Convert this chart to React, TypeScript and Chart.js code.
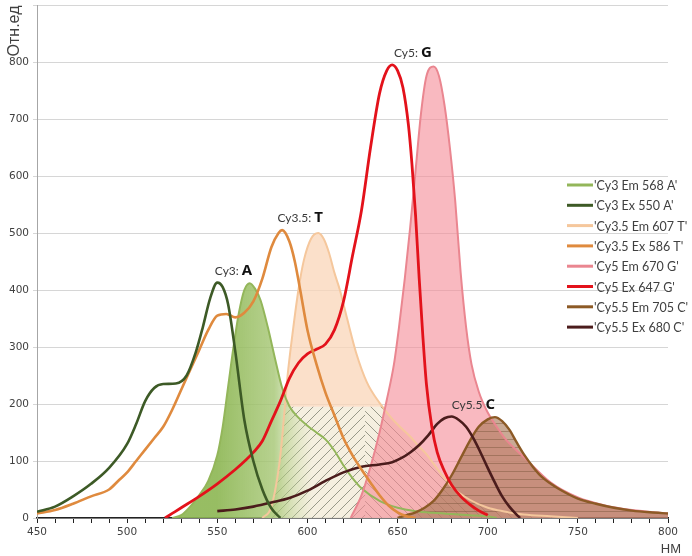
import React, { useEffect, useRef } from 'react';
import Chart from 'chart.js/auto';

type Pt = [number, number];

// spectra: [nm, relative units]
const cy3Em568: Pt[] = [
  [525, 0], [530, 5], [535, 20], [540, 40], [545, 65], [550, 110], [553, 160], [556, 230],
  [559, 300], [562, 360], [565, 400], [568, 412], [571, 402], [574, 382], [578, 335],
  [582, 280], [586, 228], [590, 196], [595, 176], [600, 162], [605, 150], [610, 138],
  [615, 118], [620, 92], [625, 70], [630, 52], [640, 30], [650, 18], [660, 12], [670, 9],
  [680, 7], [690, 5], [700, 3], [705, 0],
];
const cy3Ex550: Pt[] = [
  [450, 11], [460, 20], [470, 38], [480, 60], [490, 88], [500, 130], [505, 165], [510, 205],
  [515, 228], [520, 235], [527, 236], [533, 250], [538, 290], [542, 335], [546, 385],
  [550, 413], [553, 405], [556, 375], [560, 292], [565, 172], [570, 100], [575, 50],
  [580, 17], [585, 0],
];
const cy35Em607: Pt[] = [
  [575, 0], [580, 20], [585, 110], [589, 250], [592, 330], [595, 400], [598, 452], [602, 490],
  [606, 500], [609, 490], [612, 465], [615, 430], [618, 400], [622, 350], [627, 290],
  [633, 238], [640, 202], [647, 174], [652, 158], [657, 143], [662, 125], [666, 112],
  [670, 95], [674, 78], [680, 55], [690, 32], [700, 18], [710, 11], [720, 6],
  [735, 3], [750, 0],
];
const cy35Ex586: Pt[] = [
  [450, 8], [460, 14], [470, 25], [480, 38], [490, 50], [495, 65], [500, 80], [505, 100],
  [510, 120], [515, 140], [520, 160], [525, 190], [530, 225], [535, 260], [540, 295],
  [545, 330], [550, 355], [555, 358], [560, 352], [565, 360], [570, 380], [575, 420],
  [580, 475], [584, 500], [586, 505], [590, 485], [593, 450], [596, 400], [600, 330],
  [605, 270], [610, 220], [615, 180], [620, 140], [625, 110], [630, 85], [635, 62],
  [640, 40], [645, 22], [650, 10], [655, 3], [660, 0],
];
const cy5Em670: Pt[] = [
  [624, 0], [630, 40], [635, 90], [640, 150], [644, 207], [648, 270], [651, 340], [654, 420],
  [657, 510], [660, 610], [663, 710], [666, 775], [670, 792], [673, 775], [676, 725],
  [679, 650], [682, 555], [685, 430], [688, 335], [691, 270], [695, 222], [700, 185],
  [705, 160], [710, 138], [720, 107], [735, 62], [750, 36], [765, 22], [780, 14], [800, 8],
];
const cy5Ex647: Pt[] = [
  [521, 0], [525, 8], [530, 18], [540, 38], [550, 60], [560, 85], [566, 102], [570, 115],
  [575, 135], [580, 170], [585, 205], [590, 245], [595, 272], [600, 288], [605, 296],
  [610, 305], [615, 330], [620, 380], [625, 460], [630, 540], [635, 650], [640, 745],
  [644, 785], [647, 795], [650, 785], [653, 755], [656, 690], [658, 620], [660, 530],
  [662, 420], [664, 320], [666, 235], [669, 160], [672, 115], [676, 82], [680, 58],
  [685, 38], [690, 24], [695, 13], [700, 5],
];
const cy55Em705: Pt[] = [
  [650, 0], [655, 5], [660, 10], [665, 18], [670, 30], [675, 50], [680, 75], [685, 105],
  [690, 135], [695, 160], [700, 173], [704, 177], [708, 170], [712, 155], [716, 133],
  [720, 112], [725, 90], [730, 72], [735, 60], [740, 50], [750, 34], [760, 25], [770, 18],
  [780, 13], [790, 10], [800, 8],
];
const cy55Ex680: Pt[] = [
  [550, 12], [560, 15], [570, 20], [580, 27], [590, 35], [600, 48], [610, 65], [620, 80],
  [630, 90], [640, 94], [647, 98], [652, 105], [657, 115], [662, 128], [667, 145],
  [672, 165], [676, 175], [680, 178], [684, 172], [688, 160], [692, 140], [696, 115],
  [700, 88], [704, 62], [708, 38], [712, 20], [716, 6], [718, 0],
];

const seriesLabels = [
  "'Cy3 Em 568 A'", "'Cy3 Ex 550 A'", "'Cy3.5 Em 607 T'", "'Cy3.5 Ex 586 T'",
  "'Cy5 Em 670 G'", "'Cy5 Ex 647 G'", "'Cy5.5 Em 705 C'", "'Cy5.5 Ex 680 C'",
];
const series = [cy3Em568, cy3Ex550, cy35Em607, cy35Ex586, cy5Em670, cy5Ex647, cy55Em705, cy55Ex680];

// dye captions: [emission index, excitation index]
const dyeNames = ['Cy3:', 'Cy3.5:', 'Cy5:', 'Cy5.5'];
const dyeBases = ['A', 'T', 'G', 'C'];
const dyePairs = [[0, 1], [2, 3], [4, 5], [6, 7]];

const nmMin = 450;
const nmMax = 800;
const yMax = 900;
const yTitle = 'Отн.ед';
const xTitle = 'НМ';

const lineColors = ['#93b65a', '#3d5a26', '#f5c79c', '#df8a3e', '#ea8690', '#e3121b', '#8c5a26', '#4b1c1c'];
const lineWidths = [2, 2.6, 2, 2.6, 2, 2.8, 2.4, 2.6];

const FONT = 'Lato, "DejaVu Sans", sans-serif';

function hatch(bg: string, stroke: string, s: number) {
  const c = document.createElement('canvas');
  c.width = s;
  c.height = s;
  const g = c.getContext('2d')!;
  g.fillStyle = bg;
  g.fillRect(0, 0, s, s);
  g.strokeStyle = stroke;
  g.lineWidth = 1;
  g.beginPath();
  g.moveTo(0, s - 0.5);
  g.lineTo(s, s - 0.5);
  g.stroke();
  return g.createPattern(c, 'repeat')!;
}

// peach emission fill: plain peach, the lower band hatched on cream
function peachFill(c: any) {
  const chart = c.chart;
  if (!chart.chartArea) return 'rgba(249,214,182,0.6)';
  const { width, height } = chart;
  const sx = chart.scales.x;
  const sy = chart.scales.y;
  const cv = document.createElement('canvas');
  cv.width = width;
  cv.height = height;
  const g = cv.getContext('2d')!;
  const band = sy.getPixelForValue(195);
  const split = sx.getPixelForValue(632);
  g.fillStyle = 'rgba(249,214,184,0.75)';
  g.fillRect(0, 0, width, band);
  g.fillStyle = 'rgba(244,238,222,0.95)';
  g.fillRect(0, band, width, height - band);
  g.strokeStyle = 'rgba(90,95,80,0.6)';
  g.lineWidth = 1;
  const step = 10;
  g.save();
  g.beginPath();
  g.rect(0, band, split, height - band);
  g.clip();
  g.beginPath();
  for (let x0 = -height; x0 < width + height; x0 += step) {
    g.moveTo(x0, height);
    g.lineTo(x0 + height, 0);
  }
  g.stroke();
  g.restore();
  g.save();
  g.beginPath();
  g.rect(split, band, width - split, height - band);
  g.clip();
  g.beginPath();
  for (let x0 = -height; x0 < width + height; x0 += step) {
    g.moveTo(x0, 0);
    g.lineTo(x0 + height, height);
  }
  g.stroke();
  g.restore();
  return chart.ctx.createPattern(cv, 'no-repeat');
}

// green emission fill: saturated on the left, fading out to the right
function greenFill(c: any) {
  const chart = c.chart;
  if (!chart.chartArea) return 'rgba(150,190,90,0.6)';
  const sx = chart.scales.x;
  const g = chart.ctx.createLinearGradient(sx.getPixelForValue(550), 0, sx.getPixelForValue(603), 0);
  g.addColorStop(0, 'rgba(140,182,82,0.9)');
  g.addColorStop(0.6, 'rgba(165,198,115,0.8)');
  g.addColorStop(1, 'rgba(200,220,160,0)');
  return g;
}

const captions = {
  id: 'captions',
  afterDraw(chart: any) {
    const { ctx, chartArea, scales } = chart;
    const x = scales.x;
    const y = scales.y;
    ctx.save();

    // dye captions above each pair of peaks
    dyePairs.forEach(([em, ex], i) => {
      const peakOf = (pts: Pt[]) => pts.reduce((a, b) => (b[1] > a[1] ? b : a));
      const p1 = peakOf(series[em]);
      const p2 = peakOf(series[ex]);
      const cx = x.getPixelForValue((p1[0] + p2[0]) / 2);
      const base = y.getPixelForValue(Math.max(p1[1], p2[1])) - 8;
      ctx.font = '12px ' + FONT;
      const w1 = ctx.measureText(dyeNames[i]).width;
      ctx.font = 'bold 15px "Open Sans", sans-serif';
      const w2 = ctx.measureText(dyeBases[i]).width;
      const left = cx - (w1 + 3 + w2) / 2;
      ctx.textAlign = 'left';
      ctx.textBaseline = 'alphabetic';
      ctx.fillStyle = '#3a3a3a';
      ctx.font = '12px ' + FONT;
      ctx.fillText(dyeNames[i], left, base);
      ctx.fillStyle = '#111';
      ctx.font = 'bold 15px "Open Sans", sans-serif';
      ctx.fillText(dyeBases[i], left + w1 + 3, base);
    });

    // legend inside the plot
    const lx = chartArea.left + 530;
    const ly = chartArea.top + 180;
    seriesLabels.forEach((lab, i) => {
      const yy = ly + i * 20.3;
      ctx.strokeStyle = lineColors[i];
      ctx.lineWidth = 3;
      ctx.beginPath();
      ctx.moveTo(lx, yy);
      ctx.lineTo(lx + 26, yy);
      ctx.stroke();
      ctx.fillStyle = '#404040';
      ctx.font = '12.5px ' + FONT;
      ctx.textAlign = 'left';
      ctx.textBaseline = 'middle';
      ctx.fillText(lab, lx + 27, yy + 1);
    });

    // axis titles
    ctx.fillStyle = '#404040';
    ctx.font = '16px "Liberation Sans", sans-serif';
    ctx.translate(15, chartArea.top + 26);
    ctx.rotate(-Math.PI / 2);
    ctx.textAlign = 'center';
    ctx.textBaseline = 'middle';
    ctx.fillText(yTitle, 0, 0);
    ctx.setTransform(chart.currentDevicePixelRatio, 0, 0, chart.currentDevicePixelRatio, 0, 0);
    ctx.font = '13px "Liberation Sans", sans-serif';
    ctx.textAlign = 'right';
    ctx.textBaseline = 'alphabetic';
    ctx.fillText(xTitle, chartArea.right + 13, chartArea.bottom + 35);
    ctx.restore();
  },
};

const App: React.FC = () => {
  const canvasRef = useRef<HTMLCanvasElement>(null);

  useEffect(() => {
    if (!canvasRef.current) return;
    const ctx = canvasRef.current.getContext('2d');
    if (!ctx) return;

    const fills: any[] = [
      greenFill,
      null,
      peachFill,
      null,
      'rgba(245,138,150,0.6)',
      null,
      hatch('rgba(168,118,84,0.62)', 'rgba(120,85,60,0.45)', 8),
      null,
    ];
    const orders = [4, 0, 5, 0, 2, 0, 1, 0];

    const datasets: any[] = series.map((pts, i) => ({
      label: seriesLabels[i],
      data: pts.map(([x, y]) => ({ x, y })),
      borderColor: lineColors[i],
      borderWidth: lineWidths[i],
      backgroundColor: fills[i] ?? 'transparent',
      fill: fills[i] ? 'origin' : false,
      pointRadius: 0,
      cubicInterpolationMode: 'monotone',
      order: orders[i],
    }));

    const chart = new Chart(ctx, {
      type: 'line',
      data: { datasets },
      options: {
        animation: false,
        responsive: false,
        layout: { padding: { top: 5, right: 24, left: 0, bottom: 0 } },
        plugins: {
          legend: { display: false },
          tooltip: { enabled: false },
          filler: { drawTime: 'beforeDatasetsDraw' },
        },
        scales: {
          x: {
            type: 'linear',
            min: nmMin,
            max: nmMax,
            afterFit: (s: any) => { s.height = 38; },
            ticks: {
              stepSize: 10,
              autoSkip: false,
              maxRotation: 0,
              padding: 3,
              color: '#404040',
              font: { family: '"DejaVu Sans", sans-serif', size: 10.5 },
              callback: (v: any) => (Number(v) % 50 === 0 ? String(v) : ''),
            },
            grid: { drawOnChartArea: false, tickLength: 5, color: '#222' },
            border: { color: '#222', width: 1.5 },
          },
          y: {
            min: 0,
            max: yMax,
            afterFit: (s: any) => { s.width = 37; s.paddingTop = 0; s.paddingBottom = 0; },
            ticks: {
              stepSize: 100,
              padding: 4,
              color: '#404040',
              font: { family: '"DejaVu Sans", sans-serif', size: 10.5 },
              callback: (v: any) => (Number(v) === yMax ? '' : String(v)),
            },
            grid: { color: '#d6d6d6', tickLength: 4 },
            border: { color: '#a6a6a6' },
          },
        },
      },
      plugins: [captions],
    });

    return () => {
      chart.destroy();
    };
  }, []);

  return (
    <div style={{ position: 'absolute', left: 0, top: 0, width: 692, height: 556, background: '#fff' }}>
      <canvas ref={canvasRef} width={692} height={556} />
    </div>
  );
};

export default App;
